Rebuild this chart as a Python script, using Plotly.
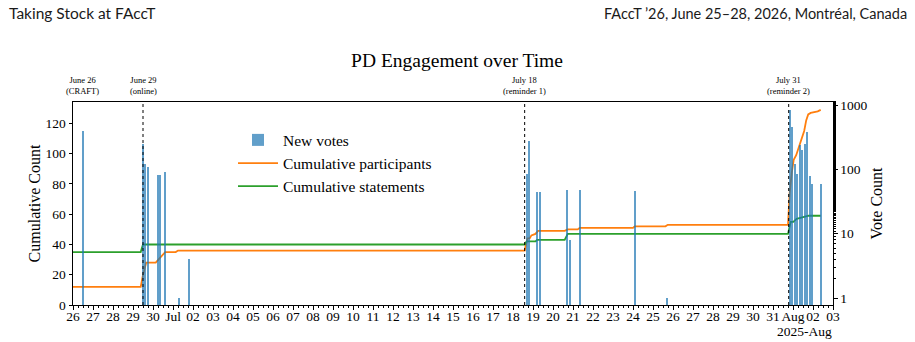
import plotly.graph_objects as go
import pandas as pd

# ---------------- data ----------------
vote_times = [
    "2025-06-26 11:45", "2025-06-29 12:30", "2025-06-29 14:50", "2025-06-29 18:30",
    "2025-06-30 06:15", "2025-06-30 08:40", "2025-06-30 14:50", "2025-07-01 06:50",
    "2025-07-01 18:50", "2025-07-18 16:25", "2025-07-18 19:40", "2025-07-19 04:25",
    "2025-07-19 08:00", "2025-07-20 16:25", "2025-07-20 20:00", "2025-07-21 08:00",
    "2025-07-24 02:00", "2025-07-25 17:15", "2025-07-31 20:00", "2025-07-31 23:15",
    "2025-08-01 02:40", "2025-08-01 05:15", "2025-08-01 08:00", "2025-08-01 11:15",
    "2025-08-01 14:25", "2025-08-01 16:50", "2025-08-01 20:25", "2025-08-01 23:15",
    "2025-08-02 09:15",
]
vote_counts = [
    395, 253, 124, 110,
    82, 82, 91, 1,
    4, 86, 276, 45,
    45, 48, 8, 48,
    47, 1, 835, 460,
    120, 86, 239, 200,
    247, 385, 79, 59,
    59,
]

participant_times = [
    "2025-06-26 00:00", "2025-06-29 09:15", "2025-06-29 12:00", "2025-06-29 15:50",
    "2025-06-30 03:15", "2025-06-30 09:50", "2025-06-30 14:40", "2025-07-01 03:15",
    "2025-07-01 06:00", "2025-07-18 14:00", "2025-07-18 17:15", "2025-07-18 20:00",
    "2025-07-18 22:05", "2025-07-19 02:55", "2025-07-19 06:00", "2025-07-20 14:00",
    "2025-07-20 17:40", "2025-07-21 05:40", "2025-07-21 08:00", "2025-07-24 00:00",
    "2025-07-24 02:00", "2025-07-25 15:00", "2025-07-25 17:40", "2025-07-31 18:00",
    "2025-07-31 20:00", "2025-07-31 22:25", "2025-08-01 00:50", "2025-08-01 03:50",
    "2025-08-01 06:50", "2025-08-01 09:50", "2025-08-01 13:25", "2025-08-01 15:50",
    "2025-08-01 18:15", "2025-08-01 21:15", "2025-08-02 05:40", "2025-08-02 09:15",
]
participant_values = [
    12, 12, 20, 28,
    28, 32, 35, 35,
    36, 36, 44, 44,
    46, 47, 49, 49,
    50, 50, 51, 51,
    52, 52, 53, 53,
    74, 87, 96, 99,
    104, 108, 115, 122,
    126, 127, 128, 129,
]

statement_times = [
    "2025-06-26 00:00", "2025-06-29 09:15", "2025-06-29 12:00", "2025-07-18 14:00",
    "2025-07-18 16:25", "2025-07-19 02:55", "2025-07-19 05:00", "2025-07-20 14:00",
    "2025-07-20 17:40", "2025-07-31 18:00", "2025-07-31 21:15", "2025-08-01 00:20",
    "2025-08-01 04:25", "2025-08-01 11:40", "2025-08-01 18:50", "2025-08-02 09:15",
]
statement_values = [
    35, 35, 40, 40,
    42, 42, 43, 43,
    47, 47, 55, 55,
    57, 58, 59, 59,
]

event_times = ["2025-06-26 11:45", "2025-06-29 12:00", "2025-07-18 14:00", "2025-07-31 18:50"]
event_labels = ["June 26<br>(CRAFT)", "June 29<br>(online)", "July 18<br>(reminder 1)", "July 31<br>(reminder 2)"]
event_has_line = [False, True, True, True]

tick_dates = [d.strftime("%Y-%m-%d") for d in pd.date_range("2025-06-26", "2025-08-03", freq="D")]
tick_labels = [
    "26", "27", "28", "29", "30", "Jul", "02", "03", "04", "05", "06", "07", "08",
    "09", "10", "11", "12", "13", "14", "15", "16", "17", "18", "19", "20", "21",
    "22", "23", "24", "25", "26", "27", "28", "29", "30", "31", "Aug", "02", "03",
]
left_ticks = [0, 20, 40, 60, 80, 100, 120]
right_ticks = [1, 10, 100, 1000]

header_left = "Taking Stock at FAccT"
header_right = "FAccT ’26, June 25–28, 2026, Montréal, Canada"

SERIF = "Liberation Serif"
DAY_MS = 24 * 3600 * 1000
W, H = 915, 342
ML, MR, MT, MB = 73, 82, 102, 37
PW, PH = W - ML - MR, H - MT - MB

fig = go.Figure()

fig.add_trace(go.Bar(
    x=vote_times, y=vote_counts, yaxis="y2", name="New votes",
    width=0.1 * DAY_MS, marker=dict(color="#1f77b4", line=dict(width=0)), opacity=0.7,
))
fig.add_trace(go.Scatter(
    x=participant_times, y=participant_values, mode="lines", name="Cumulative participants",
    line=dict(color="#ff7f0e", width=1.8),
))
fig.add_trace(go.Scatter(
    x=statement_times, y=statement_values, mode="lines", name="Cumulative statements",
    line=dict(color="#2ca02c", width=1.8),
))

shapes = []
annotations = []
for t, lab, has_line in zip(event_times, event_labels, event_has_line):
    if has_line:
        shapes.append(dict(type="line", xref="x", yref="paper", x0=t, x1=t, y0=0, y1=1,
                           line=dict(color="black", width=1, dash="dot"), layer="above"))
    annotations.append(dict(x=t, xref="x", y=1, yref="paper", yanchor="bottom", yshift=4,
                            text=lab, showarrow=False, align="center",
                            font=dict(family=SERIF, size=8.5, color="black")))

# page header (positions given in page pixels, converted to paper fractions)
annotations.append(dict(x=(7 - ML) / PW, xref="paper", y=(H - MB - 13) / PH, yref="paper",
                        text=header_left, showarrow=False, xanchor="left", yanchor="middle",
                        font=dict(family="Lato", size=15.5, color="#1a1a1a")))
annotations.append(dict(x=(909 - ML) / PW, xref="paper", y=(H - MB - 13) / PH, yref="paper",
                        text=header_right, showarrow=False, xanchor="right", yanchor="middle",
                        font=dict(family="Lato", size=14.5, color="#1a1a1a")))
# date offset text
annotations.append(dict(x=1, xref="paper", y=(H - MB - 331) / PH, yref="paper",
                        xanchor="right", yanchor="middle", borderpad=0,
                        text="2025-Aug", showarrow=False, font=dict(family=SERIF, size=13.5)))

fig.update_layout(
    width=W, height=H,
    margin=dict(l=ML, r=MR, t=MT, b=MB),
    paper_bgcolor="white", plot_bgcolor="white",
    font=dict(family=SERIF, size=13.5, color="black"),
    title=dict(text="PD Engagement over Time", x=(457 - ML) / PW, xref="paper", y=1 - 60 / H, yanchor="middle",
               font=dict(family=SERIF, size=19.5, color="black")),
    showlegend=True,
    legend=dict(x=(233 - ML) / PW, y=0.895, xanchor="left", yanchor="top", bgcolor="rgba(0,0,0,0)",
                font=dict(family=SERIF, size=15.5), itemwidth=40, traceorder="normal"),
    bargap=0,
    xaxis=dict(
        type="date", range=["2025-06-26", "2025-08-03"],
        tickvals=tick_dates, ticktext=tick_labels, tickangle=0,
        ticks="outside", ticklen=3.5, tickwidth=1, tickcolor="black",
        minor=dict(ticks="outside", dtick=6 * 3600 * 1000, ticklen=2, tickcolor="black", tickwidth=0.8),
        showline=True, linecolor="black", linewidth=1, mirror=True,
        showgrid=False, zeroline=False, tickfont=dict(size=13.5), ticklabelstandoff=-5,
    ),
    yaxis=dict(
        range=[0, 134.2], tickvals=left_ticks, ticks="outside", ticklen=3.5, tickcolor="black",
        showline=True, linecolor="black", linewidth=1, showgrid=False, zeroline=False,
        title=dict(text="Cumulative Count", font=dict(size=16), standoff=0),
        tickfont=dict(size=13.5),
    ),
    yaxis2=dict(
        type="log", overlaying="y", side="right", range=[-0.109, 3.051],
        tickvals=right_ticks, ticktext=[str(v) for v in right_ticks],
        ticks="outside", ticklen=3.5, tickcolor="black",
        minor=dict(ticks="outside", ticklen=2, tickcolor="black"),
        showline=True, linecolor="black", linewidth=1, showgrid=False, zeroline=False,
        title=dict(text="Vote Count", font=dict(size=16), standoff=4),
        tickfont=dict(size=13.5),
    ),
    shapes=shapes,
    annotations=annotations,
)

fig.write_html("out.html")
